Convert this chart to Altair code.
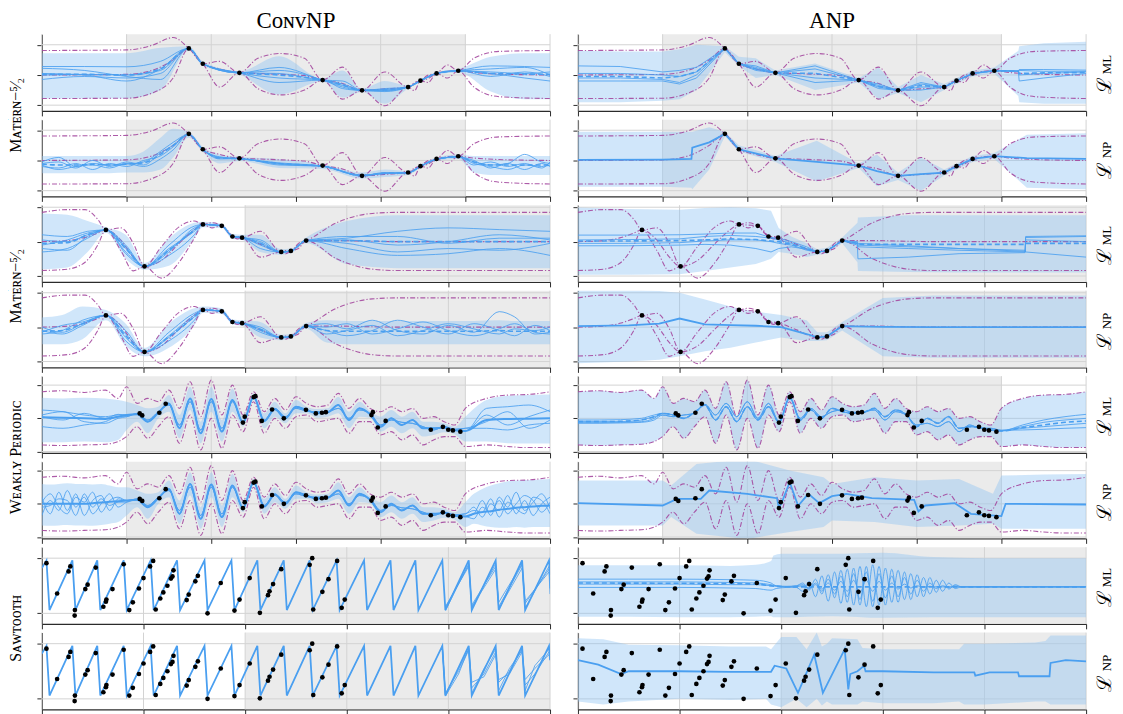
import altair as alt
import pandas as pd

# ---------------- layout / style ----------------
W, H = 510, 77
GAP_V, GAP_H = 8.8, 28
BLUE = "#4a9ff0"
BAND = "#8fc3f2"
BAND_OP = 0.42
PURPLE = "#a4489e"
GRAYBG = "#ebebeb"
GRID = "#d3d3d3"
AXIS = "#2b2b2b"
SERIF = "Liberation Serif"

COL_TITLES = ["Cᴏɴᴠ" + "NP", "ANP"]
ROW_LABELS = ["Mᴀᴛᴇ́ʀɴ−⁵⁄₂", "Mᴀᴛᴇ́ʀɴ−⁵⁄₂", "Wᴇᴀᴋʟʏ Pᴇʀɪᴏᴅɪᴄ", "Sᴀᴡᴛᴏᴏᴛʜ"]
OBJ_LABELS = ["ML", "NP"]

# ================= Task A : Matern (rows 1-2) =================
A_XDOM = [-3, 3]
A_XTICKS = [-3, -2, -1, 0, 1, 2, 3]
A_GRAY = [-2, 2]
A_YDOM = [-1.19, 1.35]
A_YTICKS = [-1, 0, 1]
A_CTX_X = [-1.265, -1.10, -0.668, 0.315, 0.78, 1.324, 1.47, 1.66, 1.916]
A_CTX_Y = [0.88, 0.37, 0.07, -0.17, -0.51, -0.40, -0.19, 0.05, 0.14]
A_GP_X = [-3.0, -2.0, -1.7, -1.45, -1.265, -1.18, -1.10, -0.9, -0.668, -0.45, -0.18, 0.1, 0.315,
          0.55, 0.78, 1.05, 1.324, 1.40, 1.47, 1.56, 1.66, 1.79, 1.916, 2.1, 2.4, 3.0]
A_GP_UP = [0.81, 0.83, 0.98, 1.24, 0.88, 0.66, 0.37, 0.45, 0.07, 0.55, 0.71, 0.55, -0.17,
           0.26, -0.51, 0.10, -0.40, -0.25, -0.19, 0.0, 0.05, 0.33, 0.14, 0.55, 0.78, 0.81]
A_GP_LO = [-0.78, -0.77, -0.6, -0.1, 0.88, 0.58, 0.37, -0.40, 0.07, -0.45, -0.66, -0.50, -0.17,
           -0.80, -0.51, -1.02, -0.40, -0.52, -0.19, -0.25, 0.05, -0.10, 0.14, -0.40, -0.72, -0.78]
A_GP_MEAN = [0.0, 0.02, 0.15, 0.5, 0.88, 0.62, 0.37, 0.2, 0.07, 0.05, 0.02, -0.02, -0.17,
             -0.28, -0.51, -0.46, -0.40, -0.30, -0.19, -0.12, 0.05, 0.12, 0.14, 0.08, 0.03, 0.0]

# row 1, ConvNP
A1_X = [-3.0, -2.5, -2.0, -1.6, -1.265, -1.10, -0.668, -0.2, 0.315, 0.55, 0.78, 1.05, 1.324, 1.47,
        1.66, 1.916, 2.3, 2.7, 3.0]
A1_S1 = [0.28, 0.28, 0.27, 0.45, 0.88, 0.37, 0.07, 0.25, -0.17, -0.35, -0.51, -0.45, -0.40, -0.19, 0.05, 0.14, 0.30, 0.28, 0.25]
A1_S2 = [0.0, 0.02, 0.0, 0.15, 0.88, 0.37, 0.07, -0.25, -0.17, -0.45, -0.51, -0.48, -0.40, -0.19, 0.05, 0.14, 0.05, -0.1, -0.2]
A1_S3 = [-0.15, -0.05, -0.1, 0.05, 0.88, 0.37, 0.07, -0.1, -0.17, -0.3, -0.51, -0.55, -0.40, -0.19, 0.05, 0.14, 0.2, 0.25, 0.0]
A1_S4 = [0.22, 0.15, -0.05, -0.15, 0.88, 0.37, 0.07, 0.05, -0.17, -0.2, -0.51, -0.52, -0.40, -0.19, 0.05, 0.14, -0.05, 0.1, -0.05]
A1_S5 = [0.05, 0.0, -0.2, 0.2, 0.88, 0.37, 0.07, 0.15, -0.17, -0.4, -0.51, -0.5, -0.40, -0.19, 0.05, 0.14, 0.1, 0.05, 0.1]
A1_MEAN = [0.02, 0.02, 0.0, 0.2, 0.88, 0.37, 0.07, 0.0, -0.17, -0.33, -0.51, -0.5, -0.40, -0.19, 0.05, 0.14, 0.05, 0.03, 0.02]
A1_UP = [0.72, 0.72, 0.72, 0.9, 0.95, 0.45, 0.12, 0.62, -0.12, 0.15, -0.45, -0.2, -0.35, -0.14, 0.1, 0.2, 0.6, 0.72, 0.72]
A1_LO = [-0.78, -0.78, -0.78, -0.5, 0.8, 0.3, 0.02, -0.65, -0.22, -0.75, -0.56, -0.95, -0.45, -0.24, 0.0, 0.08, -0.55, -0.8, -0.8]

# row 2, ConvNP
A2_X = [-3.0, -2.8, -2.6, -2.4, -2.2, -2.0, -1.8, -1.6, -1.45, -1.265, -1.10, -0.9, -0.668, -0.2, 0.315,
        0.78, 1.05, 1.324, 1.47, 1.66, 1.916, 2.1, 2.3, 2.5, 2.7, 2.9, 3.0]
A2_S1 = [-0.05, 0.1, -0.2, -0.1, -0.15, -0.12, -0.05, 0.3, 0.6, 0.86, 0.36, 0.1, 0.06, -0.1, -0.19, -0.5, -0.4, -0.41, -0.19, 0.04, 0.12, -0.05, -0.15, -0.1, 0.2, -0.05, -0.1]
A2_S2 = [-0.2, -0.25, -0.1, -0.3, -0.1, -0.2, 0.0, 0.15, 0.45, 0.86, 0.36, 0.05, 0.06, -0.15, -0.19, -0.52, -0.42, -0.41, -0.19, 0.04, 0.12, -0.1, -0.2, -0.3, -0.15, -0.2, -0.15]
A2_S3 = [-0.15, -0.3, -0.2, -0.15, -0.25, -0.1, -0.2, 0.05, 0.35, 0.86, 0.36, 0.08, 0.06, -0.12, -0.19, -0.48, -0.44, -0.41, -0.19, 0.04, 0.12, 0.0, -0.25, -0.1, -0.3, -0.1, -0.2]
A2_S4 = [-0.1, -0.05, -0.25, 0.0, -0.2, -0.05, -0.15, 0.25, 0.5, 0.86, 0.36, 0.12, 0.06, -0.08, -0.19, -0.5, -0.43, -0.41, -0.19, 0.04, 0.12, -0.15, -0.05, -0.2, -0.1, -0.25, -0.05]
A2_MEAN = [-0.12, -0.15, -0.15, -0.13, -0.15, -0.12, -0.08, 0.2, 0.5, 0.86, 0.36, 0.08, 0.06, -0.1, -0.19, -0.5, -0.42, -0.41, -0.19, 0.04, 0.12, -0.05, -0.15, -0.15, -0.15, -0.15, -0.15]
A2_UP = [0.15, 0.15, 0.15, 0.15, 0.15, 0.15, 0.3, 0.75, 1.05, 0.95, 0.45, 0.2, 0.12, 0.05, -0.12, -0.4, -0.3, -0.35, -0.12, 0.1, 0.2, 0.15, 0.15, 0.15, 0.15, 0.15, 0.15]
A2_LO = [-0.42, -0.42, -0.42, -0.42, -0.42, -0.4, -0.4, -0.3, 0.1, 0.75, 0.28, -0.1, -0.02, -0.25, -0.28, -0.6, -0.55, -0.48, -0.26, -0.02, 0.05, -0.4, -0.48, -0.48, -0.48, -0.48, -0.48]

# row 1, ANP
A3_X = [-3.0, -2.5, -2.0, -1.8, -1.6, -1.265, -1.10, -0.9, -0.668, -0.2, 0.315, 0.55, 0.78, 1.05,
        1.324, 1.47, 1.66, 1.916, 2.2, 2.21, 2.5, 3.0]
A3_S1 = [0.3, 0.28, 0.1, 0.15, 0.25, 0.88, 0.37, 0.25, 0.07, 0.3, -0.17, -0.3, -0.51, -0.25, -0.40, -0.19, 0.05, 0.14, 0.12, 0.18, 0.18, 0.16]
A3_S2 = [0.05, 0.05, 0.0, -0.05, 0.1, 0.88, 0.37, 0.3, 0.07, 0.2, -0.17, -0.45, -0.51, -0.4, -0.40, -0.19, 0.05, 0.14, 0.12, -0.2, -0.1, 0.05]
A3_S3 = [-0.1, -0.1, -0.15, -0.25, 0.0, 0.88, 0.37, 0.2, 0.07, -0.1, -0.17, -0.35, -0.51, -0.5, -0.40, -0.19, 0.05, 0.14, 0.13, 0.0, 0.05, 0.1]
A3_S4 = [-0.2, -0.2, -0.2, -0.3, -0.1, 0.88, 0.37, 0.15, 0.07, -0.25, -0.17, -0.4, -0.51, -0.3, -0.40, -0.19, 0.05, 0.14, 0.14, 0.15, 0.12, 0.12]
A3_MEAN = [-0.05, -0.05, -0.1, -0.05, 0.1, 0.88, 0.37, 0.2, 0.07, 0.05, -0.17, -0.38, -0.51, -0.35, -0.40, -0.19, 0.05, 0.14, 0.12, 0.05, 0.07, 0.08]
A3_UP = [0.8, 0.78, 0.78, 0.85, 1.0, 0.95, 0.6, 0.55, 0.15, 0.38, -0.1, 0.25, -0.4, 0.0, -0.3, -0.1, 0.15, 0.25, 0.8, 0.95, 1.05, 1.1]
A3_LO = [-0.9, -0.9, -0.85, -0.8, -0.5, 0.75, 0.3, -0.1, 0.0, -0.5, -0.25, -0.8, -0.6, -0.9, -0.5, -0.3, -0.05, 0.05, -0.7, -0.9, -0.95, -0.95]

# row 2, ANP
A4_X = [-3.0, -2.0, -1.66, -1.65, -1.45, -1.265, -1.10, -0.668, -0.18, 0.315, 0.53, 0.78, 1.05, 1.324,
        1.47, 1.66, 1.916, 2.3, 3.0]
A4_LINE = [0.02, 0.03, 0.05, 0.42, 0.6, 0.88, 0.37, 0.07, -0.05, -0.17, -0.35, -0.51, -0.45, -0.40, -0.19, 0.05, 0.14, 0.08, 0.05]
A4_UP = [0.95, 0.95, 0.95, 0.95, 1.1, 0.95, 0.5, 0.15, 0.65, -0.1, 0.2, -0.4, 0.1, -0.3, -0.1, 0.15, 0.25, 0.85, 0.9]
A4_LO = [-0.87, -0.87, -0.9, -0.95, -0.3, 0.8, 0.3, -0.05, -0.7, -0.25, -0.85, -0.65, -1.0, -0.5, -0.3, -0.05, 0.05, -0.9, -0.95]

# ================= Task B : Matern (rows 3-4) =================
B_XDOM = [0, 10]
B_XTICKS = [0, 2, 4, 6, 8, 10]
B_GRAY = [4, 10]
B_YDOM = [-1.17, 1.06]
B_YTICKS = [-1, 0, 1]
B_CTX_X = [1.26, 2.02, 3.17, 3.54, 3.75, 3.94, 4.71, 4.90, 5.20]
B_CTX_Y = [0.34, -0.72, 0.50, 0.46, 0.15, 0.115, -0.30, -0.27, 0.03]
B_GP_X = [0, 0.5, 0.85, 1.1, 1.26, 1.55, 1.8, 2.02, 2.35, 2.7, 3.0, 3.17, 3.35, 3.54, 3.65, 3.75,
          3.85, 3.94, 4.3, 4.71, 4.8, 4.90, 5.05, 5.20, 5.8, 6.5, 7.0, 10.0]
B_GP_UP = [0.85, 0.93, 0.93, 0.65, 0.34, 0.40, -0.05, -0.72, -0.15, 0.43, 0.6, 0.50, 0.55, 0.46,
           0.33, 0.15, 0.15, 0.115, 0.3, -0.30, -0.26, -0.27, -0.05, 0.03, 0.55, 0.82, 0.85, 0.85]
B_GP_LO = [-0.84, -0.8, -0.6, -0.1, 0.34, -0.25, -0.85, -0.72, -1.06, -0.6, 0.1, 0.50, 0.4, 0.46,
           0.28, 0.15, 0.08, 0.115, -0.45, -0.30, -0.35, -0.27, -0.2, 0.03, -0.5, -0.8, -0.84, -0.84]
B_GP_MEAN = [0.0, 0.03, 0.12, 0.25, 0.34, 0.05, -0.45, -0.72, -0.55, -0.05, 0.35, 0.50, 0.48, 0.46,
             0.3, 0.15, 0.12, 0.115, -0.08, -0.30, -0.3, -0.27, -0.12, 0.03, 0.03, 0.01, 0.0, 0.0]

# row 3, ConvNP
B1_X = [0, 0.5, 0.9, 1.26, 1.65, 2.02, 2.5, 3.0, 3.17, 3.54, 3.75, 3.94, 4.3, 4.71, 4.90, 5.20,
        6.0, 7.0, 8.0, 9.0, 10.0]
B1_S1 = [0.2, 0.15, 0.3, 0.34, -0.1, -0.72, -0.25, 0.35, 0.50, 0.46, 0.15, 0.115, 0.0, -0.30, -0.27, 0.03, 0.1, 0.3, 0.4, 0.35, 0.3]
B1_S2 = [-0.3, -0.2, 0.1, 0.34, -0.35, -0.72, -0.1, 0.45, 0.50, 0.46, 0.15, 0.115, -0.1, -0.30, -0.27, 0.03, -0.2, -0.4, -0.35, -0.2, -0.4]
B1_S3 = [-0.2, -0.25, 0.15, 0.34, -0.3, -0.72, -0.4, 0.2, 0.50, 0.46, 0.15, 0.115, -0.2, -0.30, -0.27, 0.03, 0.05, -0.1, 0.0, 0.2, 0.05]
B1_S4 = [0.05, 0.0, 0.2, 0.34, -0.2, -0.72, -0.2, 0.3, 0.50, 0.46, 0.15, 0.115, 0.05, -0.30, -0.27, 0.03, -0.05, -0.3, -0.2, -0.25, -0.05]
B1_S5 = [-0.1, 0.05, 0.25, 0.34, -0.15, -0.72, -0.3, 0.4, 0.50, 0.46, 0.15, 0.115, -0.05, -0.30, -0.27, 0.03, 0.15, 0.15, -0.05, 0.1, 0.1]
B1_MEAN = [-0.05, -0.03, 0.2, 0.34, -0.2, -0.72, -0.25, 0.33, 0.50, 0.46, 0.15, 0.115, -0.05, -0.30, -0.27, 0.03, 0.03, 0.0, 0.0, 0.0, 0.0]
B1_UP = [0.82, 0.78, 0.6, 0.42, 0.2, -0.62, 0.1, 0.55, 0.58, 0.52, 0.22, 0.2, 0.2, -0.22, -0.2, 0.12, 0.6, 0.77, 0.77, 0.77, 0.77]
B1_LO = [-0.8, -0.75, -0.3, 0.26, -0.5, -0.82, -0.7, 0.1, 0.42, 0.4, 0.08, 0.05, -0.3, -0.38, -0.34, -0.05, -0.65, -0.77, -0.77, -0.77, -0.77]

# row 4, ConvNP
B2_X = [0, 0.4, 0.8, 1.26, 1.65, 2.02, 2.5, 3.0, 3.17, 3.54, 3.75, 3.94, 4.3, 4.71, 4.90, 5.20, 5.6,
        6.0, 6.5, 7.0, 7.5, 8.0, 8.5, 9.0, 9.3, 9.7, 10.0]
B2_S1 = [-0.2, -0.1, 0.2, 0.34, -0.3, -0.72, -0.3, 0.3, 0.5, 0.46, 0.15, 0.115, -0.05, -0.30, -0.27, 0.03, 0.1, -0.05, 0.2, -0.1, -0.2, 0.05, -0.15, 0.45, 0.3, -0.2, -0.15]
B2_S2 = [-0.1, -0.2, 0.05, 0.34, -0.2, -0.72, -0.15, 0.4, 0.5, 0.46, 0.15, 0.115, -0.15, -0.30, -0.27, 0.03, -0.1, -0.25, -0.1, 0.2, 0.0, -0.2, 0.1, -0.1, -0.25, 0.05, -0.1]
B2_S3 = [-0.15, 0.05, 0.15, 0.34, -0.4, -0.72, -0.4, 0.2, 0.5, 0.46, 0.15, 0.115, -0.1, -0.30, -0.27, 0.03, 0.0, 0.1, -0.2, -0.05, 0.15, -0.1, -0.25, -0.05, 0.1, -0.15, -0.2]
B2_S4 = [0.0, -0.15, 0.1, 0.34, -0.1, -0.72, -0.25, 0.35, 0.5, 0.46, 0.15, 0.115, 0.0, -0.30, -0.27, 0.03, -0.2, -0.1, 0.05, -0.25, -0.1, 0.1, -0.05, -0.2, -0.05, -0.1, 0.0]
B2_MEAN = [-0.12, -0.1, 0.1, 0.34, -0.25, -0.72, -0.28, 0.3, 0.5, 0.46, 0.15, 0.115, -0.07, -0.30, -0.27, 0.03, -0.1, -0.12, -0.12, -0.12, -0.12, -0.12, -0.12, -0.1, -0.12, -0.12, -0.12]
B2_UP = [0.28, 0.35, 0.6, 0.5, 0.1, -0.6, 0.1, 0.55, 0.6, 0.55, 0.22, 0.2, 0.15, -0.22, -0.2, 0.12, 0.2, 0.18, 0.18, 0.18, 0.18, 0.18, 0.18, 0.2, 0.18, 0.18, 0.18]
B2_LO = [-0.5, -0.5, -0.35, 0.2, -0.55, -0.85, -0.6, 0.05, 0.42, 0.38, 0.08, 0.04, -0.3, -0.38, -0.34, -0.05, -0.45, -0.5, -0.5, -0.5, -0.5, -0.5, -0.5, -0.5, -0.5, -0.5, -0.5]

# row 3, ANP
B3_X = [0, 1.0, 2.0, 2.5, 3.0, 3.5, 3.8, 3.95, 4.2, 4.5, 4.71, 4.90, 5.20, 5.5, 5.51, 6.5, 7.5, 8.8, 8.81, 10.0]
B3_S1 = [0.19, 0.19, 0.2, 0.22, 0.25, 0.25, 0.12, 0.1, 0.0, -0.15, -0.30, -0.27, 0.03, -0.05, -0.05, -0.12, -0.2, -0.28, 0.15, 0.17]
B3_S2 = [0.05, 0.06, 0.08, 0.15, 0.18, 0.15, 0.1, 0.05, -0.05, -0.2, -0.30, -0.27, 0.03, 0.0, -0.15, -0.2, -0.25, -0.3, 0.05, 0.0]
B3_S3 = [-0.05, -0.05, -0.03, 0.02, 0.05, 0.05, 0.0, -0.05, -0.1, -0.25, -0.30, -0.27, 0.03, -0.1, -0.5, -0.45, -0.35, -0.32, 0.12, 0.15]
B3_S4 = [-0.12, -0.12, -0.1, -0.08, -0.1, -0.2, -0.3, -0.2, -0.15, -0.22, -0.30, -0.27, 0.03, -0.05, -0.1, -0.15, -0.2, -0.25, -0.3, -0.45]
B3_MEAN = [0.02, 0.02, 0.03, 0.05, 0.08, 0.06, 0.02, 0.0, -0.08, -0.2, -0.30, -0.27, 0.03, -0.05, -0.08, -0.08, -0.08, -0.08, -0.05, -0.05]
B3_UP = [0.99, 0.95, 0.93, 0.98, 1.0, 0.97, 0.9, 0.4, 0.15, -0.05, -0.22, -0.18, 0.12, 0.55, 0.7, 0.77, 0.77, 0.77, 0.77, 0.77]
B3_LO = [-0.96, -0.96, -0.95, -0.85, -0.75, -0.65, -0.5, -0.3, -0.35, -0.45, -0.38, -0.35, -0.05, -0.6, -0.85, -0.88, -0.9, -0.9, -0.9, -0.9]

# row 4, ANP
B4_X = [0, 1.0, 1.6, 2.0, 2.5, 3.0, 3.5, 4.0, 4.5, 4.71, 4.90, 5.20, 6.0, 7.0, 8.0, 10.0]
B4_LINE = [0.03, 0.05, 0.1, 0.25, 0.08, 0.06, 0.04, 0.0, -0.2, -0.30, -0.27, 0.03, 0.01, 0.0, 0.0, 0.0]
B4_UP = [1.17, 1.1, 1.05, 1.0, 0.8, 0.6, 0.45, 0.35, 0.2, -0.15, -0.15, 0.15, 0.85, 0.92, 0.92, 0.92]
B4_LO = [-1.05, -1.0, -0.95, -0.85, -0.7, -0.6, -0.45, -0.3, -0.4, -0.4, -0.38, -0.1, -0.85, -0.89, -0.89, -0.89]

# ================= Task C : weakly periodic (rows 5-6) =================
C_XDOM = [-3, 3]
C_XTICKS = [-3, -2, -1, 0, 1, 2, 3]
C_GRAY = [-2, 2]
C_YDOM = [-1.04, 1.27]
C_YTICKS = [-1, 0, 1]
C_CTX_X = [-1.845, -1.815, -1.613, -1.538, -0.626, -0.605, -0.5, -0.479, -0.403, -0.282, -0.143, 0.118,
           0.235, 0.307, 0.353, 0.891, 0.908, 0.966, 1.059, 1.592, 1.735, 1.798, 1.853, 1.941]
C_CTX_Y = [0.147, 0.088, 0.167, 0.44, -0.127, 0.05, 0.64, 0.667, -0.078, 0.265, 0.0, 0.255,
           0.147, 0.167, 0.186, 0.098, 0.186, -0.275, -0.078, -0.343, -0.255, -0.343, -0.363, -0.402]
C_LEFT5 = [-3.0, -2.75, -2.5, -2.25, -2.1]
C_RIGHT4 = [2.25, 2.5, 2.75, 3.0]
C_LEFT10 = [-3.0, -2.9, -2.8, -2.7, -2.6, -2.5, -2.4, -2.3, -2.2, -2.1]
C_RIGHT10 = [2.1, 2.2, 2.3, 2.4, 2.5, 2.6, 2.7, 2.8, 2.9, 3.0]
C_GRAY_X = [-2.0, -1.875, -1.75, -1.625, -1.5, -1.375, -1.25, -1.125, -1.0, -0.875, -0.75, -0.625,
            -0.5, -0.375, -0.25, -0.125, 0.0, 0.125, 0.25, 0.375, 0.5, 0.625, 0.75, 0.875, 1.0,
            1.125, 1.25, 1.375, 1.5, 1.625, 1.75, 1.875, 2.0]
C_GP_UP_L = [0.8, 0.83, 0.78, 0.85, 0.6]
C_GP_UP_G = [0.95, 0.45, 0.6, 0.5, 0.85, 0.3, 1.1, 0.05, 1.15, 0.1, 1.0, 0.1, 0.8, 0.2, 0.6, 0.25, 0.65,
             0.45, 0.35, 0.4, 0.75, 0.3, 0.6, 0.3, 0.2, 0.35, 0.2, 0.3, 0.0, 0.05, -0.1, -0.2, 0.3]
C_GP_UP_R = [0.6, 0.7, 0.72, 0.8]
C_GP_LO_L = [-0.8, -0.82, -0.8, -0.78, -0.7]
C_GP_LO_G = [-0.55, -0.25, -0.6, -0.25, 0.05, -0.75, 0.1, -0.95, 0.0, -0.9, 0.1, -0.4, 0.5, -0.45, 0.0,
             -0.3, 0.05, 0.1, -0.1, -0.05, 0.0, -0.45, -0.1, -0.1, -0.5, -0.4, -0.65, -0.5, -0.8, -0.65,
             -0.55, -0.55, -0.85]
C_GP_LO_R = [-0.8, -0.85, -0.88, -0.88]
C_MAIN_G = [0.1, 0.12, -0.1, 0.17, 0.45, -0.3, 0.6, -0.45, 0.58, -0.4, 0.55, -0.13, 0.65, -0.08, 0.27,
            0.0, 0.35, 0.25, 0.15, 0.18, 0.4, -0.05, 0.3, 0.12, -0.25, 0.0, -0.2, -0.05, -0.3, -0.3,
            -0.28, -0.36, -0.38]
C_ALT_G = [0.05, 0.15, -0.05, 0.2, 0.4, -0.2, 0.5, -0.35, 0.5, -0.3, 0.5, -0.1, 0.62, -0.05, 0.3, 0.05,
           0.3, 0.22, 0.2, 0.2, 0.3, 0.0, 0.25, 0.15, -0.2, -0.05, -0.12, -0.15, -0.25, -0.35, -0.25,
           -0.33, -0.3]
C_BAND_UP_G = [0.5, 0.4, 0.3, 0.35, 0.7, 0.1, 0.95, -0.1, 0.95, -0.05, 0.9, 0.05, 0.75, 0.15, 0.5, 0.15,
               0.55, 0.35, 0.28, 0.3, 0.65, 0.2, 0.5, 0.22, 0.05, 0.25, 0.05, 0.2, -0.1, -0.1, -0.15,
               -0.25, 0.05]
C_BAND_LO_G = [-0.35, -0.1, -0.45, 0.0, 0.2, -0.6, 0.25, -0.75, 0.2, -0.7, 0.2, -0.25, 0.55, -0.3, 0.05,
               -0.15, 0.15, 0.15, 0.02, 0.05, 0.15, -0.3, 0.05, 0.02, -0.4, -0.25, -0.45, -0.3, -0.55,
               -0.5, -0.42, -0.48, -0.7]

# row 5, ConvNP
C1_UP_L = [0.62, 0.6, 0.62, 0.6, 0.55]
C1_UP_R = [0.55, 0.68, 0.7, 0.72]
C1_LO_L = [-0.72, -0.72, -0.7, -0.72, -0.65]
C1_LO_R = [-0.7, -0.75, -0.76, -0.76]
C1_S1_L = [0.25, 0.2, 0.1, 0.05, 0.1]
C1_S1_R = [0.3, 0.35, 0.4, 0.2]
C1_S2_L = [-0.25, -0.3, -0.2, -0.1, 0.05]
C1_S2_R = [-0.3, -0.35, -0.2, -0.15]
C1_S3_L = [0.05, -0.05, 0.15, 0.0, 0.12]
C1_S3_R = [0.1, -0.2, 0.05, 0.25]
C1_S4_L = [0.1, 0.2, -0.1, -0.15, 0.0]
C1_S4_R = [-0.1, 0.2, -0.3, -0.05]
C1_MEAN_L = [0.03, 0.02, 0.0, -0.02, 0.05]
C1_MEAN_R = [-0.05, -0.02, -0.01, 0.0]

# row 6, ConvNP (fast wiggles outside the target region)
C2_W1_L = [0.2, -0.3, 0.35, -0.2, 0.3, -0.35, 0.1, 0.25, -0.2, 0.15]
C2_W2_L = [-0.35, 0.1, -0.2, 0.4, -0.1, 0.2, -0.3, 0.0, 0.3, -0.1]
C2_W3_L = [0.05, 0.3, -0.1, -0.3, 0.2, 0.05, 0.35, -0.25, 0.1, 0.2]
C2_W4_L = [-0.1, -0.05, 0.15, 0.1, -0.35, 0.3, -0.1, 0.15, -0.05, 0.05]
C2_W1_R = [-0.3, 0.1, -0.35, 0.2, -0.1, 0.35, -0.2, 0.05, 0.3, -0.15]
C2_W2_R = [-0.1, -0.4, 0.0, -0.2, 0.25, -0.3, 0.1, -0.35, 0.0, 0.2]
C2_W3_R = [-0.45, -0.1, -0.25, 0.1, -0.3, 0.0, 0.25, 0.1, -0.25, 0.05]
C2_W4_R = [-0.2, -0.25, 0.15, -0.4, 0.05, -0.15, -0.3, 0.2, 0.1, -0.3]
C2_MEAN_L = [0.0, 0.0, 0.0, 0.0, 0.0, 0.0, 0.02, 0.04, 0.06, 0.08]
C2_MEAN_R = [-0.3, -0.25, -0.22, -0.18, -0.15, -0.12, -0.1, -0.08, -0.06, -0.05]
C2_UP_L = [0.6, 0.58, 0.6, 0.62, 0.6, 0.6, 0.58, 0.6, 0.55, 0.5]
C2_LO_L = [-0.65, -0.66, -0.65, -0.64, -0.65, -0.65, -0.66, -0.64, -0.6, -0.55]
C2_UP_R = [0.3, 0.45, 0.55, 0.62, 0.68, 0.7, 0.72, 0.72, 0.74, 0.75]
C2_LO_R = [-0.6, -0.65, -0.7, -0.72, -0.72, -0.7, -0.72, -0.7, -0.7, -0.7]

# row 5, ANP
C3_G1 = [0.15, 0.1, 0.0, 0.18, 0.4, -0.05, 0.35, -0.1, 0.35, -0.05, 0.35, -0.12, 0.64, -0.05, 0.25, 0.0,
         0.3, 0.2, 0.15, 0.18, 0.3, 0.05, 0.25, 0.12, -0.25, 0.0, -0.15, 0.05, -0.3, -0.25, -0.28,
         -0.35, -0.38]
C3_G2 = [0.1, 0.05, 0.1, 0.15, 0.42, 0.1, 0.45, 0.05, 0.5, 0.0, 0.45, -0.1, 0.6, 0.0, 0.3, 0.05, 0.2,
         0.25, 0.18, 0.2, 0.25, -0.05, 0.2, 0.1, -0.2, -0.15, -0.25, -0.1, -0.4, -0.2, -0.3, -0.3,
         -0.36]
C3_S1_L = [-0.05, -0.05, -0.04, 0.0, 0.1]
C3_S2_L = [-0.1, -0.1, -0.1, -0.05, 0.05]
C3_S3_L = [-0.12, -0.12, -0.12, -0.1, 0.0]
C3_S4_L = [-0.15, -0.15, -0.14, -0.12, -0.05]
C3_S1_R = [-0.2, -0.05, 0.05, 0.12]
C3_S2_R = [-0.25, -0.12, -0.05, 0.0]
C3_S3_R = [-0.3, -0.25, -0.2, -0.15]
C3_S4_R = [-0.35, -0.33, -0.3, -0.28]
C3_MEAN_L = [-0.1, -0.1, -0.09, -0.05, 0.05]
C3_MEAN_R = [-0.28, -0.2, -0.12, -0.08]

# row 6, ANP
C4_X = [-3.0, -2.0, -1.83, -1.55, -1.45, -1.0, -0.65, -0.63, -0.6, -0.5, -0.4, -0.28, -0.15, 0.0, 0.17,
        0.47, 0.97, 1.02, 1.1, 1.45, 1.64, 2.0, 2.05, 3.0]
C4_LINE = [0.02, -0.05, 0.15, 0.15, 0.4, 0.3, 0.17, -0.1, 0.0, 0.65, -0.06, 0.3, 0.02, 0.23, 0.3, 0.17,
           0.12, -0.23, -0.05, 0.02, -0.3, -0.37, 0.0, -0.02]
C4_BX = [-3.0, -2.0, -1.9, -1.6, -1.0, -0.5, -0.1, 0.0, 0.5, 1.0, 1.5, 1.9, 2.0, 2.5, 3.0]
C4_UP = [0.7, 0.7, 0.55, 1.2, 1.35, 1.0, 0.8, 0.6, 0.8, 0.7, 0.75, 0.3, 0.85, 0.88, 0.9]
C4_LO = [-0.65, -0.65, -0.4, -0.9, -1.06, -0.85, -0.7, -0.5, -0.55, -0.7, -0.65, -0.6, -0.75, -0.75, -0.75]

# ================= Task D : sawtooth (rows 7-8) =================
D_XDOM = [0, 10]
D_XTICKS = [0, 2, 4, 6, 8, 10]
D_GRAY = [4, 10]
D_YDOM = [-0.19, 1.2]
D_YTICKS = [0, 1]
D_CTX_X = [0.09, 0.30, 0.525, 0.56, 0.65, 0.645, 0.855, 0.9, 1.06, 1.21, 1.26, 1.27, 1.39, 1.61, 1.72,
           1.79, 1.91, 2.0, 2.13, 2.19, 2.24, 2.33, 2.39, 2.47, 2.54, 2.57, 2.59, 2.85, 2.89, 3.02,
           3.07, 3.26, 3.52, 3.79, 3.89, 4.09, 4.29, 4.45, 4.48, 4.55, 4.71, 5.27, 5.32, 5.34, 5.52,
           5.64, 5.81, 5.9, 5.96]
D_CTX_Y = [0.91, 0.36, 0.76, 0.85, 0.06, -0.04, 0.44, 0.52, 0.83, 0.12, 0.21, 0.25, 0.44, 0.89, 0.06,
           0.2, 0.45, 0.64, 0.85, 0.95, 0.07, 0.27, 0.38, 0.5, 0.63, 0.67, 0.78, 0.24, 0.34, 0.58,
           0.68, 0.0, 0.55, 0.05, 0.25, 0.64, 0.01, 0.33, 0.4, 0.53, 0.8, 0.88, 1.0, 0.07, 0.39,
           0.62, 0.95, 0.1, 0.25]
SAW_X = [0.0, 0.09, 0.15, 0.6, 0.66, 1.09, 1.15, 1.61, 1.67, 2.14, 2.2, 2.66, 2.72, 3.2, 3.26, 3.73, 3.79,
         4.24, 4.3, 4.76, 4.82, 5.27, 5.33, 5.8, 5.86, 6.34, 6.4, 6.86, 6.92, 7.35, 7.41, 7.88, 7.94,
         8.4, 8.46, 8.93, 8.99, 9.45, 9.51, 9.98, 10.0]
SAW_Y = [0.82, 0.96, 0.06, 0.96, 0.06, 0.96, 0.06, 0.96, 0.06, 0.96, 0.06, 0.96, 0.06, 0.96, 0.06, 0.96,
         0.06, 0.96, 0.06, 0.96, 0.06, 0.96, 0.06, 0.96, 0.06, 0.96, 0.06, 0.96, 0.06, 0.96, 0.06, 0.96,
         0.06, 0.96, 0.06, 0.96, 0.06, 0.96, 0.06, 0.96, 0.7]

D1_X = [7.94, 8.4, 8.46, 8.93, 8.99, 9.45, 9.51, 9.98, 10.0]
D1_S1 = [0.1, 0.88, 0.15, 0.85, 0.12, 0.88, 0.18, 0.8, 0.6]
D1_S2 = [0.05, 0.9, 0.1, 0.9, 0.08, 0.82, 0.1, 0.85, 0.45]
D1_S3 = [0.12, 0.85, 0.12, 0.8, 0.2, 0.9, 0.22, 0.75, 0.35]
D2_X = [7.88, 7.94, 8.2, 8.4, 8.46, 8.7, 8.93, 8.99, 9.2, 9.45, 9.51, 9.7, 9.98, 10.0]
D2_S1 = [0.96, 0.08, 0.55, 0.9, 0.2, 0.45, 0.85, 0.3, 0.5, 0.9, 0.25, 0.45, 0.85, 0.8]
D2_S2 = [0.96, 0.1, 0.5, 0.88, 0.1, 0.55, 0.9, 0.15, 0.55, 0.88, 0.15, 0.6, 0.9, 0.85]
D2_S3 = [0.96, 0.05, 0.45, 0.92, 0.3, 0.4, 0.8, 0.35, 0.45, 0.85, 0.35, 0.55, 0.8, 0.75]

D3_LEFT_X = [0.0, 1.0, 2.0, 3.0, 3.5, 3.8, 3.9, 4.1]
D3_OSC_X = [4.3, 4.425, 4.55, 4.675, 4.8, 4.925, 5.05, 5.175, 5.3, 5.425, 5.55, 5.675, 5.8, 5.925, 6.05,
            6.175, 6.3, 6.425, 6.55, 6.675, 6.8, 6.925, 7.05, 7.175, 7.3, 7.425, 7.55]
D3_TAIL_X = [7.8, 8.5, 10.0]
D3_TAIL_Y = [0.48, 0.48, 0.48]
D3_L1 = [0.62, 0.62, 0.62, 0.61, 0.6, 0.55, 0.5, 0.49]
D3_L2 = [0.57, 0.57, 0.57, 0.56, 0.55, 0.52, 0.5, 0.48]
D3_L3 = [0.53, 0.53, 0.53, 0.52, 0.52, 0.5, 0.49, 0.48]
D3_L4 = [0.47, 0.47, 0.47, 0.46, 0.45, 0.42, 0.45, 0.47]
D3_OSC1 = [0.5, 0.55, 0.42, 0.62, 0.35, 0.7, 0.28, 0.78, 0.2, 0.82, 0.15, 0.85, 0.12, 0.85, 0.15, 0.8,
           0.2, 0.75, 0.25, 0.7, 0.3, 0.65, 0.38, 0.6, 0.44, 0.52, 0.48]
D3_OSC2 = [0.47, 0.4, 0.58, 0.3, 0.68, 0.22, 0.75, 0.18, 0.8, 0.15, 0.85, 0.12, 0.88, 0.15, 0.82, 0.2,
           0.78, 0.25, 0.72, 0.3, 0.65, 0.35, 0.6, 0.4, 0.55, 0.45, 0.48]
D3_OSC3 = [0.5, 0.52, 0.45, 0.55, 0.4, 0.62, 0.35, 0.68, 0.3, 0.72, 0.25, 0.75, 0.22, 0.72, 0.28, 0.68,
           0.3, 0.65, 0.35, 0.6, 0.4, 0.55, 0.45, 0.5, 0.47, 0.5, 0.48]
D3_OSC4 = [0.48, 0.5, 0.46, 0.52, 0.44, 0.55, 0.42, 0.58, 0.4, 0.6, 0.38, 0.6, 0.4, 0.58, 0.42, 0.55,
           0.44, 0.53, 0.46, 0.5, 0.47, 0.49, 0.48, 0.48, 0.48, 0.48, 0.48]
D3_MEAN_X = [0.0, 3.0, 3.5, 3.9, 4.3, 10.0]
D3_MEAN = [0.55, 0.54, 0.53, 0.49, 0.48, 0.48]
D3_BX = [0, 1, 2, 3, 3.5, 3.8, 3.85, 4.0, 5, 6, 7, 8, 9, 10]
D3_UP = [0.87, 0.87, 0.87, 0.86, 0.88, 0.95, 1.05, 1.08, 1.08, 1.1, 1.02, 1.0, 1.0, 1.0]
D3_LO = [-0.06, -0.06, -0.07, -0.07, -0.06, -0.05, -0.07, -0.07, -0.05, -0.08, -0.07, -0.07, -0.07, -0.07]

D4_X = [0.0, 0.4, 0.85, 1.0, 2.0, 3.0, 3.8, 3.87, 4.1, 4.33, 4.65, 4.82, 5.25, 5.32, 5.36, 5.5, 5.63,
        5.66, 6.0, 7.0, 7.8, 7.82, 8.1, 8.66, 8.68, 9.28, 9.3, 9.6, 10.0]
D4_LINE = [0.7, 0.62, 0.45, 0.5, 0.5, 0.49, 0.49, 0.6, 0.55, 0.11, 0.8, 0.11, 0.9, 0.17, 0.45, 0.5, 0.6,
           0.5, 0.5, 0.48, 0.48, 0.42, 0.48, 0.48, 0.41, 0.41, 0.65, 0.7, 0.68]
D4_BX = [0, 0.5, 1, 2, 3, 3.7, 3.8, 4.0, 4.3, 4.5, 4.7, 4.8, 4.9, 5.0, 5.5, 5.6, 6.0, 7.0, 7.5, 7.6,
         8.0, 9.0, 9.2, 9.3, 10.0]
D4_UP = [1.1, 1.08, 0.98, 0.97, 0.95, 0.95, 0.9, 1.12, 1.12, 0.9, 1.2, 0.95, 1.0, 1.1, 1.08, 0.92, 0.9,
         0.9, 0.9, 1.0, 1.0, 1.02, 1.05, 1.15, 1.15]
D4_LO = [-0.05, -0.1, -0.05, 0.0, -0.02, 0.0, -0.1, -0.15, 0.0, -0.15, 0.0, -0.12, -0.05, -0.1, -0.1,
         -0.05, -0.08, -0.08, -0.05, -0.1, -0.1, -0.05, -0.05, -0.1, -0.1]


# ---------------- helpers ----------------
def task(xdom, xticks, gray, ydom, yticks):
    return dict(xdom=xdom, xticks=xticks, gray=gray, ydom=ydom, yticks=yticks)


TA = task(A_XDOM, A_XTICKS, A_GRAY, A_YDOM, A_YTICKS)
TB = task(B_XDOM, B_XTICKS, B_GRAY, B_YDOM, B_YTICKS)
TC = task(C_XDOM, C_XTICKS, C_GRAY, C_YDOM, C_YTICKS)
TD = task(D_XDOM, D_XTICKS, D_GRAY, D_YDOM, D_YTICKS)


def xenc(t, field="x"):
    return alt.X(f"{field}:Q", scale=alt.Scale(domain=t["xdom"], nice=False, zero=False),
                 axis=alt.Axis(values=t["xticks"], labels=False, title=None, grid=False, tickSize=5,
                               tickColor=AXIS, domainColor=AXIS, domainWidth=1.2, tickWidth=1))


def yenc(t, field="y"):
    return alt.Y(f"{field}:Q", scale=alt.Scale(domain=t["ydom"], nice=False, zero=False),
                 axis=alt.Axis(values=t["yticks"], labels=False, title=None, grid=False, tickSize=5,
                               tickColor=AXIS, domainColor=AXIS, domainWidth=1.2, tickWidth=1))


def lines_df(series):
    rows = []
    for name, xs, ys in series:
        assert len(xs) == len(ys), (name, len(xs), len(ys))
        for a, b in zip(xs, ys):
            rows.append({"s": name, "x": a, "y": b})
    return pd.DataFrame(rows)


def panel(t, band=None, gp=None, thin=(), dashed=None, thick=(), pts=None, interp="monotone",
          thick_interp="linear", thick_w=1.8, col_title=None, row_label=None, obj=None):
    L = []
    L.append(alt.Chart(pd.DataFrame({"x": [t["gray"][0]], "x2": [t["gray"][1]]}))
             .mark_rect(color=GRAYBG)
             .encode(x=xenc(t), x2="x2:Q", y=alt.value(0), y2=alt.value(H)))
    L.append(alt.Chart(pd.DataFrame({"x": t["xticks"]})).mark_rule(color=GRID, strokeWidth=1)
             .encode(x=xenc(t), y=alt.value(0), y2=alt.value(H)))
    L.append(alt.Chart(pd.DataFrame({"y": t["yticks"]})).mark_rule(color=GRID, strokeWidth=1)
             .encode(y=yenc(t), x=alt.value(0), x2=alt.value(W)))
    if band is not None:
        bx, bu, bl = band
        assert len(bx) == len(bu) == len(bl)
        L.append(alt.Chart(pd.DataFrame({"x": bx, "up": bu, "lo": bl}))
                 .mark_area(color=BAND, opacity=BAND_OP, interpolate=interp, clip=True)
                 .encode(x=xenc(t), y=yenc(t, "lo"), y2="up:Q"))
    if gp is not None:
        L.append(alt.Chart(lines_df(gp))
                 .mark_line(color=PURPLE, strokeWidth=1.1, strokeDash=[5, 2, 1.2, 2],
                            interpolate="monotone", clip=True, opacity=0.9)
                 .encode(x=xenc(t), y=yenc(t), detail="s:N"))
    if thin:
        L.append(alt.Chart(lines_df(thin))
                 .mark_line(color=BLUE, strokeWidth=0.9, interpolate=interp, clip=True, opacity=0.95)
                 .encode(x=xenc(t), y=yenc(t), detail="s:N"))
    if dashed is not None:
        L.append(alt.Chart(lines_df([("m", dashed[0], dashed[1])]))
                 .mark_line(color=BLUE, strokeWidth=1.6, strokeDash=[5, 3], interpolate=interp, clip=True)
                 .encode(x=xenc(t), y=yenc(t), detail="s:N"))
    if thick:
        L.append(alt.Chart(lines_df(thick))
                 .mark_line(color=BLUE, strokeWidth=thick_w, interpolate=thick_interp, clip=True)
                 .encode(x=xenc(t), y=yenc(t), detail="s:N"))
    if pts is not None:
        L.append(alt.Chart(pd.DataFrame({"x": pts[0], "y": pts[1]}))
                 .mark_circle(color="black", size=22, opacity=1, clip=True)
                 .encode(x=xenc(t), y=yenc(t)))
    if col_title is not None:
        L.append(alt.Chart(pd.DataFrame({"t": [col_title]}))
                 .mark_text(font=SERIF, fontSize=23, color="black", align="center", baseline="middle")
                 .encode(text="t:N", x=alt.value(W / 2), y=alt.value(-13)))
    if row_label is not None:
        L.append(alt.Chart(pd.DataFrame({"t": [row_label]}))
                 .mark_text(font=SERIF, fontSize=16, color="black", align="center", baseline="middle",
                            angle=270)
                 .encode(text="t:N", x=alt.value(-26), y=alt.value(H + GAP_V / 2)))
    if obj is not None:
        L.append(alt.Chart(pd.DataFrame({"t": ["ℒ"]}))
                 .mark_text(font=SERIF, fontSize=20, color="black", align="center", baseline="middle",
                            angle=270)
                 .encode(text="t:N", x=alt.value(W + 19), y=alt.value(H / 2 + 13)))
        L.append(alt.Chart(pd.DataFrame({"t": [obj]}))
                 .mark_text(font=SERIF, fontSize=13, color="black", align="center", baseline="middle",
                            angle=270)
                 .encode(text="t:N", x=alt.value(W + 21), y=alt.value(H / 2 - 8)))
    return alt.layer(*L).properties(width=W, height=H)


A_GP = [("u", A_GP_X, A_GP_UP), ("l", A_GP_X, A_GP_LO), ("m", A_GP_X, A_GP_MEAN)]
B_GP = [("u", B_GP_X, B_GP_UP), ("l", B_GP_X, B_GP_LO), ("m", B_GP_X, B_GP_MEAN)]
C_X42 = C_LEFT5 + C_GRAY_X + C_RIGHT4
C_X53 = C_LEFT10 + C_GRAY_X + C_RIGHT10
C_GP = [("u", C_X42, C_GP_UP_L + C_GP_UP_G + C_GP_UP_R), ("l", C_X42, C_GP_LO_L + C_GP_LO_G + C_GP_LO_R)]

# ---------------- panels ----------------
p1l = panel(TA, band=(A1_X, A1_UP, A1_LO), gp=A_GP,
            thin=[("s1", A1_X, A1_S1), ("s2", A1_X, A1_S2), ("s3", A1_X, A1_S3), ("s4", A1_X, A1_S4), ("s5", A1_X, A1_S5)],
            dashed=(A1_X, A1_MEAN), pts=(A_CTX_X, A_CTX_Y), col_title=COL_TITLES[0], row_label=ROW_LABELS[0])
p1r = panel(TA, band=(A3_X, A3_UP, A3_LO), gp=A_GP,
            thin=[("s1", A3_X, A3_S1), ("s2", A3_X, A3_S2), ("s3", A3_X, A3_S3), ("s4", A3_X, A3_S4)],
            dashed=(A3_X, A3_MEAN), pts=(A_CTX_X, A_CTX_Y), interp="linear", col_title=COL_TITLES[1],
            obj=OBJ_LABELS[0])
p2l = panel(TA, band=(A2_X, A2_UP, A2_LO), gp=A_GP,
            thin=[("s1", A2_X, A2_S1), ("s2", A2_X, A2_S2), ("s3", A2_X, A2_S3), ("s4", A2_X, A2_S4)],
            dashed=(A2_X, A2_MEAN), pts=(A_CTX_X, A_CTX_Y))
p2r = panel(TA, band=(A4_X, A4_UP, A4_LO), gp=A_GP, thick=[("l", A4_X, A4_LINE)], thick_w=1.8,
            pts=(A_CTX_X, A_CTX_Y), interp="linear", obj=OBJ_LABELS[1])

p3l = panel(TB, band=(B1_X, B1_UP, B1_LO), gp=B_GP,
            thin=[("s1", B1_X, B1_S1), ("s2", B1_X, B1_S2), ("s3", B1_X, B1_S3), ("s4", B1_X, B1_S4), ("s5", B1_X, B1_S5)],
            dashed=(B1_X, B1_MEAN), pts=(B_CTX_X, B_CTX_Y), row_label=ROW_LABELS[1])
p3r = panel(TB, band=(B3_X, B3_UP, B3_LO), gp=B_GP,
            thin=[("s1", B3_X, B3_S1), ("s2", B3_X, B3_S2), ("s3", B3_X, B3_S3), ("s4", B3_X, B3_S4)],
            dashed=(B3_X, B3_MEAN), pts=(B_CTX_X, B_CTX_Y), interp="linear", obj=OBJ_LABELS[0])
p4l = panel(TB, band=(B2_X, B2_UP, B2_LO), gp=B_GP,
            thin=[("s1", B2_X, B2_S1), ("s2", B2_X, B2_S2), ("s3", B2_X, B2_S3), ("s4", B2_X, B2_S4)],
            dashed=(B2_X, B2_MEAN), pts=(B_CTX_X, B_CTX_Y))
p4r = panel(TB, band=(B4_X, B4_UP, B4_LO), gp=B_GP, thick=[("l", B4_X, B4_LINE)],
            pts=(B_CTX_X, B_CTX_Y), interp="linear", obj=OBJ_LABELS[1])

p5l = panel(TC, band=(C_X42, C1_UP_L + C_BAND_UP_G + C1_UP_R, C1_LO_L + C_BAND_LO_G + C1_LO_R), gp=C_GP,
            thin=[("s1", C_X42, C1_S1_L + C_MAIN_G + C1_S1_R), ("s2", C_X42, C1_S2_L + C_ALT_G + C1_S2_R),
                  ("s3", C_X42, C1_S3_L + C_MAIN_G + C1_S3_R), ("s4", C_X42, C1_S4_L + C_ALT_G + C1_S4_R)],
            thick=[("m", C_X42, C1_MEAN_L + C_MAIN_G + C1_MEAN_R)], thick_interp="monotone", thick_w=2.0,
            pts=(C_CTX_X, C_CTX_Y), row_label=ROW_LABELS[2])
p5r = panel(TC, band=(C_X42, C_GP_UP_L + C_GP_UP_G + C_GP_UP_R, C_GP_LO_L + C_GP_LO_G + C_GP_LO_R), gp=C_GP,
            thin=[("s1", C_X42, C3_S1_L + C3_G1 + C3_S1_R), ("s2", C_X42, C3_S2_L + C3_G2 + C3_S2_R),
                  ("s3", C_X42, C3_S3_L + C3_G1 + C3_S3_R), ("s4", C_X42, C3_S4_L + C3_G2 + C3_S4_R)],
            dashed=(C_X42, C3_MEAN_L + C3_G1 + C3_MEAN_R), pts=(C_CTX_X, C_CTX_Y), obj=OBJ_LABELS[0])
p6l = panel(TC, band=(C_X53, C2_UP_L + C_BAND_UP_G + C2_UP_R, C2_LO_L + C_BAND_LO_G + C2_LO_R), gp=C_GP,
            thin=[("s1", C_X53, C2_W1_L + C_MAIN_G + C2_W1_R), ("s2", C_X53, C2_W2_L + C_ALT_G + C2_W2_R),
                  ("s3", C_X53, C2_W3_L + C_MAIN_G + C2_W3_R), ("s4", C_X53, C2_W4_L + C_ALT_G + C2_W4_R)],
            thick=[("m", C_X53, C2_MEAN_L + C_MAIN_G + C2_MEAN_R)], thick_interp="monotone", thick_w=2.0,
            pts=(C_CTX_X, C_CTX_Y))
p6r = panel(TC, band=(C4_BX, C4_UP, C4_LO), gp=C_GP, thick=[("l", C4_X, C4_LINE)],
            pts=(C_CTX_X, C_CTX_Y), interp="linear", obj=OBJ_LABELS[1])

p7l = panel(TD, thin=[("s1", D1_X, D1_S1), ("s2", D1_X, D1_S2), ("s3", D1_X, D1_S3)],
            thick=[("saw", SAW_X, SAW_Y)], pts=(D_CTX_X, D_CTX_Y), interp="linear", row_label=ROW_LABELS[3])
p7r = panel(TD, band=(D3_BX, D3_UP, D3_LO),
            thin=[("s1", D3_LEFT_X + D3_OSC_X + D3_TAIL_X, D3_L1 + D3_OSC1 + D3_TAIL_Y),
                  ("s2", D3_LEFT_X + D3_OSC_X + D3_TAIL_X, D3_L2 + D3_OSC2 + D3_TAIL_Y),
                  ("s3", D3_LEFT_X + D3_OSC_X + D3_TAIL_X, D3_L3 + D3_OSC3 + D3_TAIL_Y),
                  ("s4", D3_LEFT_X + D3_OSC_X + D3_TAIL_X, D3_L4 + D3_OSC4 + D3_TAIL_Y)],
            dashed=(D3_MEAN_X, D3_MEAN), pts=(D_CTX_X, D_CTX_Y), obj=OBJ_LABELS[0])
p8l = panel(TD, thin=[("s1", D2_X, D2_S1), ("s2", D2_X, D2_S2), ("s3", D2_X, D2_S3)],
            thick=[("saw", SAW_X, SAW_Y)], pts=(D_CTX_X, D_CTX_Y), interp="linear")
p8r = panel(TD, band=(D4_BX, D4_UP, D4_LO), thick=[("l", D4_X, D4_LINE)], pts=(D_CTX_X, D_CTX_Y),
            interp="linear", obj=OBJ_LABELS[1])

panels = [p1l, p1r, p2l, p2r, p3l, p3r, p4l, p4r, p5l, p5r, p6l, p6r, p7l, p7r, p8l, p8r]

chart = (alt.concat(*panels, columns=2, spacing={"row": GAP_V, "column": GAP_H}, bounds="flush")
         .properties(padding={"top": 1, "left": 0, "right": 0, "bottom": 0}, background="white")
         .configure_view(stroke=None))

chart.save("out.html", embed_options={"renderer": "svg", "actions": False})
